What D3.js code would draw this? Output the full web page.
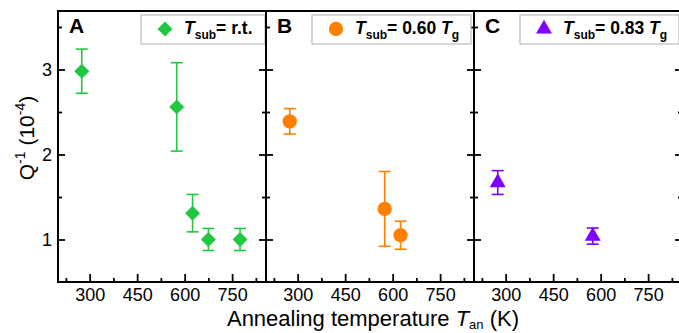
<!DOCTYPE html>
<html>
<head>
<meta charset="utf-8">
<script src="https://cdn.jsdelivr.net/npm/d3@7"></script>
<style>
  body { margin: 0; background: #fff; }
  svg { display: block; font-family: "Liberation Sans", Arial, sans-serif; }
</style>
</head>
<body>
<div id="chart"></div>
<script>
// Panel A: T_sub = r.t.
const annealA = [275, 575, 625, 675, 775];
const qA = [2.98, 2.56, 1.31, 1.0, 1.0];
const errA = [0.26, 0.52, 0.22, 0.13, 0.13];

// Panel B: T_sub = 0.60 Tg
const annealB = [275, 575, 625];
const qB = [2.39, 1.36, 1.05];
const errB = [0.15, 0.44, 0.165];

// Panel C: T_sub = 0.83 Tg
const annealC = [275, 575];
const qC = [1.67, 1.04];
const errC = [0.14, 0.095];

const xTicks = [300, 450, 600, 750];
const xMinor = [225, 375, 525, 675, 825];
const yTicks = [1, 2, 3];
const yMinor = [1.5, 2.5, 3.5];

const panels = [
  { letter: "A", x: annealA, q: qA, err: errA, color: "#20c840", shape: "diamond", legend: ["= r.t.", null] },
  { letter: "B", x: annealB, q: qB, err: errB, color: "#ff8000", shape: "circle", legend: ["= 0.60 ", "g"] },
  { letter: "C", x: annealC, q: qC, err: errC, color: "#8000ff", shape: "triangle", legend: ["= 0.83 ", "g"] }
];

const W = 679, H = 333;
const plotLeft = 58, plotTop = 11, plotBottom = 282, panelW = 208;

const svg = d3.select("#chart").append("svg")
    .attr("width", W)
    .attr("height", H);

const y = d3.scaleLinear().domain([0.5, 3.7]).range([plotBottom, plotTop - 1]);

function symbolFor(shape) {
  if (shape === "diamond") return d3.symbol().type(d3.symbolSquare).size(112);
  if (shape === "circle") return d3.symbol().type(d3.symbolCircle).size(160);
  return d3.symbol().type(d3.symbolTriangle).size(110);
}

panels.forEach((p, i) => {
  const x0 = plotLeft + i * panelW;
  const x = d3.scaleLinear().domain([200, 857]).range([x0, x0 + panelW]);
  const g = svg.append("g");

  // ticks (inward), major + minor
  const addAxis = (axis, tr) => {
    const a = g.append("g").attr("transform", tr).call(axis);
    a.select(".domain").remove();
    a.selectAll("line").attr("stroke", "#000").attr("stroke-width", 1.8);
    a.selectAll("text").attr("font-size", 18).attr("fill", "#000")
      .attr("font-family", "Liberation Sans, Arial, sans-serif");
    return a;
  };
  addAxis(d3.axisBottom(x).tickValues(xTicks).tickSize(-8).tickPadding(6), `translate(0,${plotBottom})`);
  addAxis(d3.axisBottom(x).tickValues(xMinor).tickSize(-4).tickFormat(""), `translate(0,${plotBottom})`);
  addAxis(d3.axisLeft(y).tickValues(yTicks).tickSize(-7).tickPadding(6)
    .tickFormat(i === 0 ? d3.format("d") : ""), `translate(${x0},0)`);
  addAxis(d3.axisLeft(y).tickValues(yMinor).tickSize(-4).tickFormat(""), `translate(${x0},0)`);
  addAxis(d3.axisRight(y).tickValues(yTicks).tickSize(-7).tickFormat(""), `translate(${x0 + panelW},0)`);
  addAxis(d3.axisRight(y).tickValues(yMinor).tickSize(-4).tickFormat(""), `translate(${x0 + panelW},0)`);

  // frame
  g.append("rect")
    .attr("x", x0).attr("y", plotTop)
    .attr("width", panelW).attr("height", plotBottom - plotTop)
    .attr("fill", "none").attr("stroke", "#000").attr("stroke-width", 2);

  // error bars
  const pts = p.x.map((t, j) => ({ t: t, q: p.q[j], e: p.err[j] }));
  const eb = g.append("g").attr("stroke", p.color).attr("stroke-width", 1.6);
  pts.forEach(d => {
    const cx = x(d.t);
    eb.append("line").attr("x1", cx).attr("x2", cx).attr("y1", y(d.q + d.e)).attr("y2", y(d.q - d.e));
    eb.append("line").attr("x1", cx - 6).attr("x2", cx + 6).attr("y1", y(d.q + d.e)).attr("y2", y(d.q + d.e));
    eb.append("line").attr("x1", cx - 6).attr("x2", cx + 6).attr("y1", y(d.q - d.e)).attr("y2", y(d.q - d.e));
  });

  // markers
  const sym = symbolFor(p.shape);
  g.selectAll(".pt").data(pts).enter().append("path")
    .attr("class", "pt")
    .attr("d", sym)
    .attr("fill", p.color)
    .attr("transform", d => `translate(${x(d.t)},${y(d.q)})` + (p.shape === "diamond" ? " rotate(45)" : ""));

  // panel letter
  g.append("text")
    .attr("x", x0 + 11).attr("y", 33)
    .attr("font-size", 21).attr("font-weight", "bold")
    .text(p.letter);

  // legend
  const lx = i === 0 ? x0 + 83 : x0 + 46;
  const lw = i === 0 ? 124 : 159;
  g.append("rect")
    .attr("x", lx).attr("y", 15).attr("width", lw).attr("height", 29)
    .attr("fill", "#fff").attr("stroke", "#b0b0b0").attr("stroke-width", 1);
  g.append("path")
    .attr("d", sym)
    .attr("fill", p.color)
    .attr("transform", `translate(${lx + 24},29)` + (p.shape === "diamond" ? " rotate(45)" : ""));
  const lt = g.append("text")
    .attr("x", lx + 43).attr("y", 34)
    .attr("font-size", 17.5).attr("font-weight", "bold");
  lt.append("tspan").attr("font-style", "italic").text("T");
  lt.append("tspan").attr("font-size", 12).attr("dy", 5).text("sub");
  lt.append("tspan").attr("dy", -5).text(p.legend[0]);
  if (p.legend[1]) {
    lt.append("tspan").attr("font-style", "italic").text("T");
    lt.append("tspan").attr("font-size", 12).attr("dy", 5).text(p.legend[1]);
  }
});

// y axis label
const yl = svg.append("text")
  .attr("transform", "translate(34,138) rotate(-90)")
  .attr("text-anchor", "middle")
  .attr("font-size", 21);
yl.append("tspan").text("Q");
yl.append("tspan").attr("font-size", 14).attr("dy", -9).text("-1");
yl.append("tspan").attr("dy", 9).text(" (10");
yl.append("tspan").attr("font-size", 14).attr("dy", -9).text("-4");
yl.append("tspan").attr("dy", 9).text(")");

// x axis label
const xl = svg.append("text")
  .attr("x", 373).attr("y", 326)
  .attr("text-anchor", "middle")
  .attr("font-size", 22);
xl.append("tspan").text("Annealing temperature ");
xl.append("tspan").attr("font-style", "italic").text("T");
xl.append("tspan").attr("font-size", 13).attr("dy", 3).text("an");
xl.append("tspan").attr("dy", -3).text(" (K)");
</script>
</body>
</html>
